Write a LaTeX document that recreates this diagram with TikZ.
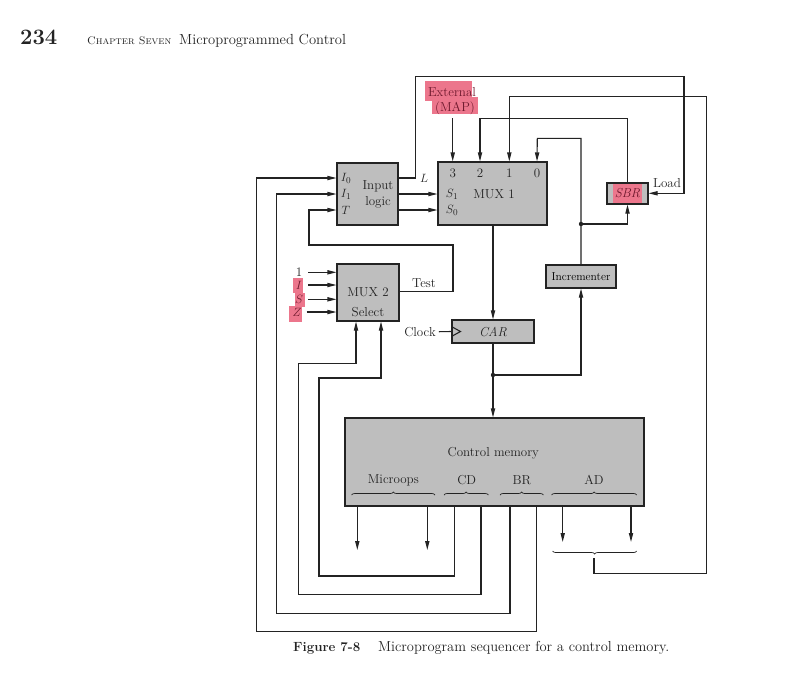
\documentclass[tikz,border=0pt]{standalone}
\usetikzlibrary{arrows.meta,decorations.pathreplacing}
\definecolor{boxfill}{RGB}{190,190,190}
\definecolor{linec}{RGB}{35,35,35}
\definecolor{hl}{RGB}{236,118,140}
\definecolor{hltext}{RGB}{110,25,45}
\begin{document}
\begin{tikzpicture}[x=1pt,y=-1pt,
  font=\fontsize{13}{14}\selectfont,
  blk/.style={draw=linec, fill=boxfill, line width=1.1pt, inner sep=0pt},
  wire/.style={draw=linec, line width=1.1pt},
  arr/.style={wire, -{Triangle[length=9pt,width=4.2pt]}},
  brc/.style={draw=linec, line width=0.7pt, decorate, decoration={brace,amplitude=3pt}},
  txt/.style={inner sep=0pt, text=linec},
  hltxt/.style={inner sep=0pt, text=hltext}]
\useasboundingbox (0,0) rectangle (810,689);

% header and caption
\node[txt, anchor=base west, font=\fontsize{22}{24}\selectfont\bfseries] (pg) at (20,44) {234};
\node[txt, anchor=base west, font=\fontsize{11}{13}\selectfont] (chap) at (87,44) {\textsc{Chapter Seven}};
\node[txt, anchor=base west, font=\fontsize{14.6}{16}\selectfont] (title) at (179,44) {Microprogrammed Control};
\node[txt, anchor=base west, font=\fontsize{13.3}{15}\selectfont\bfseries] (fig) at (293,651) {Figure 7-8};
\node[txt, anchor=base west, font=\fontsize{14.5}{16}\selectfont] (cap) at (378,651) {Microprogram sequencer for a control memory.};

% blocks
\node[blk, minimum width=61pt, minimum height=62pt] (il) at (367.5,194) {};
\node[blk, minimum width=109pt, minimum height=63pt] (mux1) at (492.5,193.5) {};
\node[blk, minimum width=41pt, minimum height=21pt] (sbr) at (627.5,193.5) {};
\node[blk, minimum width=62pt, minimum height=57pt] (mux2) at (368,292.5) {};
\node[blk, minimum width=82pt, minimum height=23pt] (car) at (493,331.5) {};
\node[blk, minimum width=70pt, minimum height=23pt, font=\fontsize{11.5}{12}\selectfont] (inc) at (581,276.5) {Incrementer};
\node[blk, minimum width=299pt, minimum height=88pt] (cm) at (494.5,462) {};

% highlights
\fill[hl] (613,184) rectangle (642,203);
\fill[hl] (425,81) rectangle (472,101);
\fill[hl] (432,97) rectangle (478,114);
\fill[hl] (293,278) rectangle (303,293);
\fill[hl] (295,293) rectangle (305,307);
\fill[hl] (289,306) rectangle (302,322);

% input logic labels
\node[txt] (lI0) at (346,178) {$I_0$};
\node[txt] (lI1) at (346,194) {$I_1$};
\node[txt] (lT) at (346,210) {$T$};
\node[txt] (ilt1) at (378,186) {Input};
\node[txt] (ilt2) at (378,202) {logic};
\node[txt] (lL) at (424,178) {$L$};

% MUX1 labels
\node[txt] (n3) at (452.7,173) {3};
\node[txt] (n2) at (480,173) {2};
\node[txt] (n1) at (509.3,173) {1};
\node[txt] (n0) at (537,173) {0};
\node[txt] (lS1) at (452,194) {$S_1$};
\node[txt] (lS0) at (452,210) {$S_0$};
\node[txt] (m1t) at (494,194) {MUX 1};

% SBR and external
\node[hltxt] (sbrt) at (627.5,193.5) {\textit{SBR}};
\node[txt] (load) at (667,183) {Load};
\node[hltxt] (ext1) at (452,92) {External};
\node[hltxt] (ext2) at (455,108) {(MAP)};

% MUX2 labels
\node[txt] (l1) at (299,272.3) {1};
\node[hltxt] (lI) at (299,285) {$I$};
\node[hltxt] (lS) at (299,299.3) {$S$};
\node[hltxt] (lZ) at (297,312) {$Z$};
\node[txt] (m2t) at (368,291.7) {MUX 2};
\node[txt] (m2s) at (368,311.7) {Select};
\node[txt] (test) at (424,283) {Test};

% CAR
\node[txt] (cart) at (493,331.5) {\textit{CAR}};
\node[txt] (clk) at (420,331.7) {Clock};

% control memory labels
\node[txt] (cmt) at (493.3,453.3) {Control memory};
\node[txt] (fmo) at (393.3,480) {Microops};
\node[txt] (fcd) at (466.7,480) {CD};
\node[txt] (fbr) at (521.7,480) {BR};
\node[txt] (fad) at (594,480) {AD};
\draw[brc] (351.7,495) -- (435,495);
\draw[brc] (444,495) -- (488.3,495);
\draw[brc] (500,495) -- (543.3,495);
\draw[brc] (551.7,495) -- (636.7,495);

% coordinates
\coordinate (cd1) at (454.3,506);
\coordinate (cd2) at (481,506);
\coordinate (br1) at (510,506);
\coordinate (br2) at (536.7,506);
\coordinate (adtip) at (594,558);
\coordinate (dotA) at (581,224);
\coordinate (dotB) at (493,375);

% MUX1 inputs
\draw[arr] (n3 |- 0,118) -- (n3 |- mux1.north);
\draw[arr] (sbr.north) |- (480,118.3) -- (n2 |- mux1.north);
\draw[wire] (adtip) -- (594,573.3) -| (706.7,96.7);
\draw[arr] (706.7,96.7) -| (n1 |- mux1.north);
\draw[arr] (inc.north) |- (537.3,138.3) -- (n0 |- mux1.north);
\draw[arr] (dotA) -| (sbr.south);
\fill[linec] (dotA) circle (2.2pt);

% input logic connections
\draw[arr] (il.east |- lS1) -- (mux1.west |- lS1);
\draw[arr] (il.east |- lS0) -- (mux1.west |- lS0);
\draw[arr] (il.east |- lI0) -- (415.7,178) -- (415.7,76.7) -| (684,193.3) -- (sbr.east |- 0,193.3);

% feedback from control memory
\draw[arr] (br2) -- (536.7,631.7) -| (256.7,178) -- (il.west |- lI0);
\draw[arr] (br1) -- (510,613.3) -| (276.7,194) -- (il.west |- lI1);
\draw[arr] (cd2) -- (481,594.3) -| (298.3,363.3) -| (356,0 |- mux2.south);
\draw[arr] (cd1) -- (454.3,576) -| (319,378) -| (381,0 |- mux2.south);

% test
\draw[arr] (mux2.east |- m2t) -- (453,291.7) -- (453,245) -| (309,210) -- (il.west |- lT);

% MUX2 inputs
\draw[arr] ([xshift=6pt]l1.east) -- (mux2.west |- l1);
\draw[arr] ([xshift=6pt]lI.east) -- (mux2.west |- lI);
\draw[arr] ([xshift=5pt]lS.east) -- (mux2.west |- lS);
\draw[arr] ([xshift=5pt]lZ.east) -- (mux2.west |- lZ);

% CAR path
\draw[arr] (car.north |- mux1.south) -- (car.north);
\draw[arr] (car.south) -- (car.south |- cm.north);
\draw[arr] (dotB) -| (inc.south);
\fill[linec] (dotB) circle (2.2pt);
\draw[wire] (clk.east) ++(3,0) -- (car.west);
\draw[wire] (car.west) ++(0,-5) -- ++(9,5) -- ++(-9,5);

% outputs
\draw[arr] (357.3,506) -- (357.3,550);
\draw[arr] (427.3,506) -- (427.3,550);
\draw[arr] (562.7,506) -- (562.7,542);
\draw[arr] (631,506) -- (631,542);
\draw[brc] (636.7,551) -- (552.7,551);
\end{tikzpicture}
\end{document}
